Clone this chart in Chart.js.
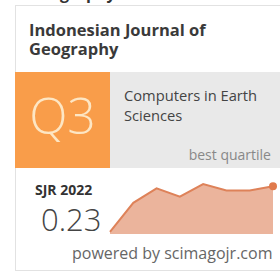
<!DOCTYPE html>
<html>
<head>
<meta charset="utf-8">
<script src="https://cdn.jsdelivr.net/npm/chart.js@4/dist/chart.umd.min.js"></script>
<style>
  html, body { margin: 0; padding: 0; background: #fff; }
  body { width: 280px; height: 272px; position: relative; overflow: hidden; font-family: "Open Sans", "Noto Sans", sans-serif; }
  .abs { position: absolute; white-space: nowrap; }
  #prev { left: 29px; top: -18px; font-size: 16px; font-weight: 700; color: #333; line-height: 22px; }
  #box { left: 15px; top: 5px; width: 270px; height: 266px; border: 1px solid #e2e2e2; box-sizing: border-box; background: #fff; }
  .title { left: 29px; font-size: 16.5px; font-weight: 700; color: #3a3a3a; line-height: 18px; }
  #t1 { top: 21px; }
  #t2 { top: 40px; }
  #q { left: 15px; top: 72px; width: 95px; height: 96px; background: #f99d4a; }
  #qtext { left: 15px; top: 80px; width: 95px; text-align: center; font-size: 50px; font-weight: 300; color: #fde6c4; line-height: 70px; }
  #cat { left: 110px; top: 72px; width: 175px; height: 96px; background: #e9e9e9; }
  .catname { left: 124px; font-size: 14.7px; color: #444; line-height: 19px; }
  #c1 { top: 86px; }
  #c2 { top: 106px; }
  #best { right: 9px; top: 145px; font-size: 14px; color: #888; }
  #sjr { left: 35px; top: 180px; font-size: 14px; font-weight: 700; color: #333; }
  #val { left: 41px; top: 198px; font-size: 31px; font-weight: 300; color: #444; }
  #pow { left: 72px; top: 242px; font-size: 16px; color: #666; }
  #chartWrap { left: 106px; top: 176px; width: 172px; height: 62px; }
</style>
</head>
<body>
<div class="abs" id="prev">Geography</div>
<div class="abs" id="box"></div>
<div class="abs title" id="t1">Indonesian Journal of</div>
<div class="abs title" id="t2">Geography</div>
<div class="abs" id="q"></div>
<div class="abs" id="qtext">Q3</div>
<div class="abs" id="cat"></div>
<div class="abs catname" id="c1">Computers in Earth</div>
<div class="abs catname" id="c2">Sciences</div>
<div class="abs" id="best">best quartile</div>
<div class="abs" id="sjr">SJR 2022</div>
<div class="abs" id="val">0.23</div>
<div class="abs" id="pow">powered by scimagojr.com</div>
<div class="abs" id="chartWrap"><canvas id="sjrChart" width="172" height="62"></canvas></div>
<script>
// SJR history
const years = ['2015', '2016', '2017', '2018', '2019', '2020', '2021', '2022'];
const sjrValues = [0.01, 0.15, 0.22, 0.18, 0.24, 0.21, 0.21, 0.23];
const yMax = 0.26;

const ctx = document.getElementById('sjrChart');
new Chart(ctx, {
    type: 'line',
    data: {
        labels: years,
        datasets: [{
            data: sjrValues,
            borderColor: '#de8259',
            backgroundColor: '#ebb49c',
            borderWidth: 2,
            fill: 'origin',
            tension: 0,
            pointRadius: sjrValues.map((v, i) => i === sjrValues.length - 1 ? 4 : 0),
            pointBackgroundColor: '#e07a4c',
            pointBorderWidth: 0
        }]
    },
    options: {
        responsive: false,
        animation: false,
        layout: { padding: { left: 4, right: 5, top: 0, bottom: 1 } },
        plugins: { legend: { display: false }, tooltip: { enabled: false } },
        scales: {
            x: { display: false, offset: false },
            y: { display: false, min: 0, max: yMax }
        }
    }
});
</script>
</body>
</html>
